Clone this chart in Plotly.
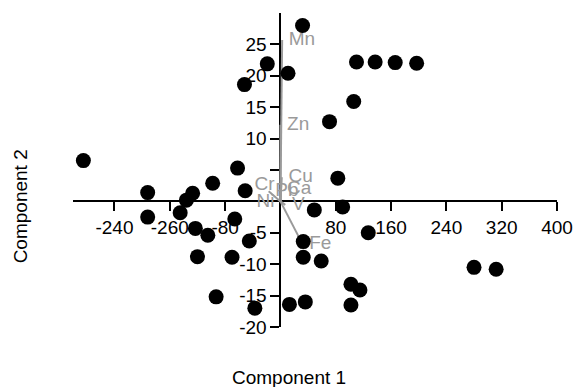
import plotly.graph_objects as go

# Scores (Component 1, Component 2)
score_x = [-285, -192, -192, -127, -136, -145, -98, -62, -51, -66, -123, -105, -45, -120, -70, -93, -37,
           32, -19, 11, -52, 110, 137, 166, 197, 106, 71,
           83, 49, 90, 127, 33, 33, 59, 102, 115, 102, 13, 36,
           280, 312]
score_y = [6.5, 1.4, -2.5, 1.3, 0.2, -1.8, 2.9, 5.3, 1.7, -2.8, -4.3, -5.4, -6.3, -8.8, -8.9, -15.2, -17.0,
           28.0, 21.9, 20.4, 18.6, 22.2, 22.2, 22.1, 22.0, 15.9, 12.7,
           3.7, -1.35, -0.9, -5.0, -6.4, -8.9, -9.5, -13.2, -14.1, -16.5, -16.4, -16.0,
           -10.5, -10.8]

# Loadings (vector end points) and labels
elements = ["Mn", "Zn", "Cu", "Ca", "Pb", "Cr", "Ni", "V", "Fe"]
load_x = [2.5, 0, 2, 0, -17, 1, 1, 7, 32]
load_y = [25.7, 12.2, 3.85, 2.0, 1.6, 2.5, -0.1, -0.55, -6.8]
label_pos = ["middle right", "middle right", "middle right", "middle right", "middle right",
             "middle left", "middle left", "middle right", "middle right"]

x_tickvals = [-240, -160, -80, 80, 160, 240, 320, 400]
x_ticktext = ["-240", "-260", "-80", "80", "160", "240", "320", "400"]
y_tickvals = [-20, -15, -10, -5, 5, 10, 15, 20, 25]
y_ticktext = ["-20", "-15", "-10", "-5", "", "10", "15", "20", "25"]

x_range = [-300, 400]
y_range = [-20, 30]

FONT = "Liberation Sans, Arial, sans-serif"
GRAY = "#9a9a9a"

fig = go.Figure()

for ex, ey in zip(load_x, load_y):
    fig.add_trace(go.Scatter(x=[0, ex], y=[0, ey], mode="lines",
                             line=dict(color=GRAY, width=2), hoverinfo="skip",
                             showlegend=False, cliponaxis=False))

fig.add_trace(go.Scatter(x=load_x, y=load_y, mode="markers+text", text=elements,
                         textposition=label_pos,
                         marker=dict(size=9, opacity=0),
                         textfont=dict(family=FONT, size=19, color=GRAY),
                         showlegend=False, cliponaxis=False))

fig.add_trace(go.Scatter(x=score_x, y=score_y, mode="markers",
                         marker=dict(color="black", size=15, line=dict(width=0)),
                         showlegend=False, cliponaxis=False))

xpos = (0 - y_range[0]) / (y_range[1] - y_range[0])
ypos = (0 - x_range[0]) / (x_range[1] - x_range[0])

fig.update_layout(
    width=578, height=387,
    margin=dict(l=73, r=21, t=13, b=60, autoexpand=False),
    plot_bgcolor="white", paper_bgcolor="white",
    font=dict(family=FONT, size=19, color="black"),
    xaxis=dict(range=x_range, domain=[0, 1], anchor="free", position=xpos, automargin=False,
               showgrid=False, zeroline=False, showline=True, linecolor="black", linewidth=2,
               ticks="outside", ticklen=9, tickwidth=2, tickcolor="black",
               tickvals=x_tickvals, ticktext=x_ticktext,
               tickfont=dict(family=FONT, size=19, color="black"), layer="below traces"),
    yaxis=dict(range=y_range, domain=[0, 1], anchor="free", position=ypos, automargin=False,
               showgrid=False, zeroline=False, showline=True, linecolor="black", linewidth=2,
               ticks="outside", ticklen=9, tickwidth=2, tickcolor="black",
               tickvals=y_tickvals, ticktext=y_ticktext,
               tickfont=dict(family=FONT, size=19, color="black"), layer="below traces"),
    annotations=[
        dict(text="Component 1", xref="paper", yref="paper", x=0.447, y=-0.162,
             xanchor="center", yanchor="middle", showarrow=False,
             font=dict(family=FONT, size=19, color="black")),
        dict(text="Component 2", xref="paper", yref="paper", x=-0.109, y=0.385,
             xanchor="center", yanchor="middle", showarrow=False, textangle=-90,
             font=dict(family=FONT, size=19, color="black")),
    ],
)

fig.write_html("out.html")
